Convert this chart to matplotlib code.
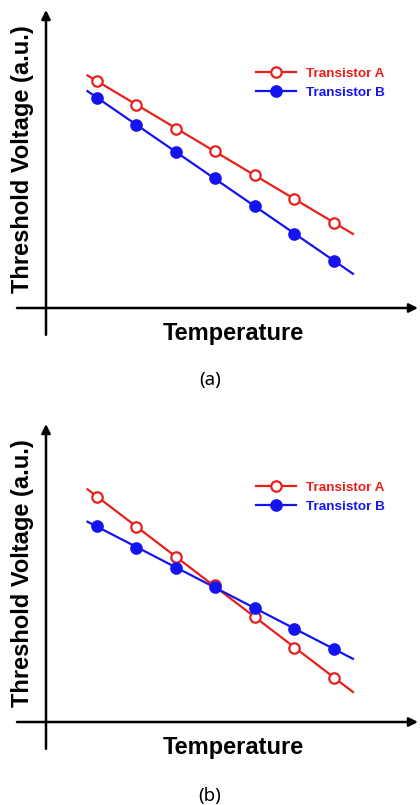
import numpy as np
import matplotlib.pyplot as plt

# =========================
# data (arbitrary units)
# =========================

temperature = [1, 2, 3, 4, 5, 6, 7]

vth_a_case_a = [7.62, 6.81, 6.01, 5.27, 4.46, 3.66, 2.85]
vth_b_case_a = [7.05, 6.14, 5.23, 4.36, 3.42, 2.48, 1.58]

vth_a_case_b = [7.55, 6.54, 5.54, 4.60, 3.52, 2.48, 1.48]
vth_b_case_b = [6.58, 5.84, 5.17, 4.53, 3.83, 3.12, 2.45]

series_labels = ["Transistor A", "Transistor B"]
panel_captions = ["(a)", "(b)"]

RED = "#e8201c"
BLUE = "#1414f0"

# =========================
# figure
# =========================

fig = plt.figure(figsize=(4.2, 8.05), dpi=100)

axes_rects = [
    [46 / 420, 497 / 805, 372 / 420, 298 / 805],
    [46 / 420, 83 / 805, 372 / 420, 298 / 805],
]
caption_y = [1 - 380 / 805, 1 - 796 / 805]
data_sets = [
    (vth_a_case_a, vth_b_case_a),
    (vth_a_case_b, vth_b_case_b),
]

x_line = np.array([0.76, 7.48])

for rect, (ya, yb), cap, cy in zip(axes_rects, data_sets, panel_captions, caption_y):

    ax = fig.add_axes(rect)
    ax.set_xlim(-0.291, 9.127)
    ax.set_ylim(0, 10)
    ax.axis("off")

    # fitted straight lines through the points, slightly extended
    for yv, col, face, lab in [(ya, RED, "white", series_labels[0]),
                               (yb, BLUE, BLUE, series_labels[1])]:
        k, b = np.polyfit(temperature, yv, 1)
        ax.plot(x_line, k * x_line + b, color=col, lw=1.6, zorder=2)
        ax.plot(temperature, yv, ls="none", marker="o", ms=7.5,
                mfc=face, mec=col, mew=1.6, zorder=3)
        # legend handle
        ax.plot([], [], color=col, lw=1.6, marker="o", ms=7.5,
                mfc=face, mec=col, mew=1.6, label=lab)

    ax.legend(loc="upper left", bbox_to_anchor=(0.546, 0.83),
              frameon=False, borderpad=0, handlelength=3.0,
              handletextpad=0.75, labelspacing=0.5, labelcolor="linecolor",
              prop={"family": "Liberation Sans", "weight": "bold", "size": 9.7})

    # axis arrows
    ax.annotate("", xy=(0, 1), xytext=(0, -0.09), xycoords="axes fraction",
                arrowprops=dict(arrowstyle="-|>", lw=1.8, color="black",
                                mutation_scale=13, shrinkA=0, shrinkB=0))
    ax.annotate("", xy=(1, 0), xytext=(-0.078, 0), xycoords="axes fraction",
                arrowprops=dict(arrowstyle="-|>", lw=1.8, color="black",
                                mutation_scale=13, shrinkA=0, shrinkB=0))

    ax.text(-0.0645, 0.5, "Threshold Voltage (a.u.)", transform=ax.transAxes,
            rotation=90, ha="center", va="center", fontsize=17,
            fontweight="bold", family="Liberation Sans")
    ax.text(0.503, -0.084, "Temperature", transform=ax.transAxes,
            ha="center", va="center", fontsize=17,
            fontweight="bold", family="Liberation Sans")

    fig.text(0.5, cy, cap, ha="center", va="center", fontsize=13.5,
             family="Noto Sans", fontweight="light")

fig.savefig("out.png", dpi=100)
